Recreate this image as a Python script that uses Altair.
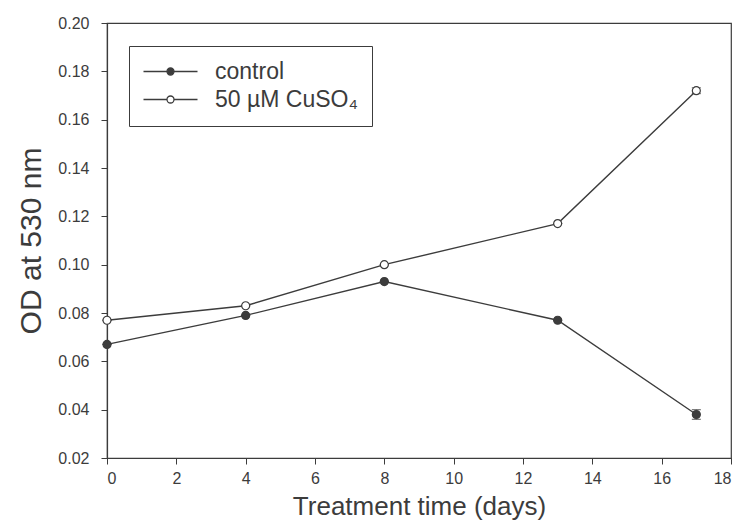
import altair as alt
import pandas as pd

days = [0, 4, 8, 13, 17]
control = [0.067, 0.079, 0.093, 0.077, 0.038]
control_err = [0.0, 0.0, 0.0, 0.0, 0.002]
cuso4 = [0.077, 0.083, 0.100, 0.117, 0.172]
cuso4_err = [0.0, 0.0, 0.0, 0.0, 0.0012]
series_names = ["control", "50 µM CuSO₄"]

rows = []
for d, v, e in zip(days, control, control_err):
    rows.append({"day": d, "od": v, "lo": v - e, "hi": v + e, "series": series_names[0]})
for d, v, e in zip(days, cuso4, cuso4_err):
    rows.append({"day": d, "od": v, "lo": v - e, "hi": v + e, "series": series_names[1]})
df = pd.DataFrame(rows)

INK = "#3c3c3c"
FONT = "Liberation Sans"

x = alt.X("day:Q", scale=alt.Scale(domain=[0, 18], nice=False),
          axis=alt.Axis(values=list(range(0, 19, 2)), title="Treatment time (days)"))
y = alt.Y("od:Q", scale=alt.Scale(domain=[0.02, 0.20], nice=False, zero=False),
          axis=alt.Axis(values=[round(0.02 * i, 2) for i in range(1, 11)], format=".2f",
                        title="OD at 530 nm"))

legend_path = "M-2.2,0L2.5,0M3.9,0L8.6,0M2.5,0A0.7,0.7,0,1,1,3.9,0A0.7,0.7,0,1,1,2.5,0Z"

fill = alt.Fill("series:N",
                scale=alt.Scale(domain=series_names, range=[INK, "white"]),
                legend=alt.Legend(title=None, orient="none", legendX=22, legendY=23,
                                  symbolType=legend_path, symbolSize=100,
                                  symbolStrokeColor=INK, symbolStrokeWidth=1.3,
                                  labelFontSize=23, labelFont=FONT, labelColor=INK,
                                  labelOffset=49, rowPadding=4,
                                  strokeColor=INK, fillColor="white", padding=14))

base = alt.Chart(df)

lines = base.mark_line(color=INK, strokeWidth=1.4).encode(
    x=x, y=y, detail="series:N")

bars = base.mark_rule(color=INK, strokeWidth=1.2).encode(
    x="day:Q", y="lo:Q", y2="hi:Q")
caps_lo = base.mark_tick(color=INK, orient="horizontal", size=9, thickness=1.2).encode(
    x="day:Q", y="lo:Q")
caps_hi = base.mark_tick(color=INK, orient="horizontal", size=9, thickness=1.2).encode(
    x="day:Q", y="hi:Q")

points = base.mark_point(filled=True, size=64, stroke=INK, strokeWidth=1.2, opacity=1).encode(
    x=x, y=y, fill=fill)

chart = alt.layer(lines, bars, caps_lo, caps_hi, points).properties(
    width=624, height=435, background="white",
    autosize=alt.AutoSizeParams(type="none"),
    padding={"left": 99, "top": 15, "right": 2, "bottom": 62},
).configure_view(
    stroke=INK, strokeWidth=1.2
).configure_axis(
    grid=False, domainColor=INK, tickColor=INK, tickSize=6, domainWidth=1.2,
    labelFont=FONT, labelFontSize=16, labelColor=INK, labelPadding=6,
    titleFont=FONT, titleFontWeight="normal", titleColor=INK,
).configure_axisY(
    titlePadding=11, labelPadding=12, titleFontSize=30
).configure_axisX(
    titlePadding=7, titleFontSize=26
)

chart.save("out.html", embed_options={"renderer": "svg", "actions": False})
